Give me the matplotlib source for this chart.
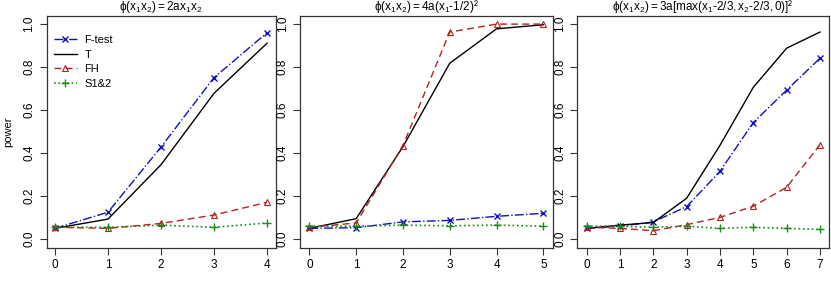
import matplotlib
matplotlib.use('Agg')
import matplotlib.pyplot as plt

plt.rcParams['font.family'] = ['Liberation Sans', 'DejaVu Sans']
plt.rcParams['mathtext.fontset'] = 'custom'
plt.rcParams['mathtext.rm'] = 'Liberation Sans'
plt.rcParams['mathtext.it'] = 'Liberation Sans'
plt.rcParams['mathtext.default'] = 'regular'

# data
x1 = [0, 1, 2, 3, 4]
ftest1 = [0.05, 0.125, 0.428, 0.751, 0.96]
t1 = [0.05, 0.093, 0.346, 0.678, 0.911]
fh1 = [0.055, 0.05, 0.073, 0.112, 0.171]
s1 = [0.055, 0.055, 0.065, 0.055, 0.075]

x2 = [0, 1, 2, 3, 4, 5]
ftest2 = [0.05, 0.053, 0.08, 0.087, 0.106, 0.12]
t2 = [0.05, 0.095, 0.43, 0.818, 0.978, 0.997]
fh2 = [0.055, 0.075, 0.435, 0.963, 1.0, 1.0]
s2 = [0.06, 0.06, 0.065, 0.062, 0.065, 0.06]

x3 = [0, 1, 2, 3, 4, 5, 6, 7]
ftest3 = [0.05, 0.06, 0.08, 0.151, 0.315, 0.542, 0.693, 0.841]
t3 = [0.05, 0.065, 0.077, 0.19, 0.436, 0.706, 0.888, 0.963]
fh3 = [0.055, 0.05, 0.039, 0.067, 0.101, 0.153, 0.241, 0.439]
s3 = [0.06, 0.06, 0.055, 0.06, 0.05, 0.055, 0.05, 0.045]

titles = [r'$\phi(x_1x_2)=2ax_1x_2$',
          r'$\phi(x_1x_2)=4a(x_1$-$1/2)$²',
          r'$\phi(x_1x_2)=3a[max(x_1$-$2/3,x_2$-$2/3,0)]$²']

panels = [(x1, ftest1, t1, fh1, s1), (x2, ftest2, t2, fh2, s2), (x3, ftest3, t3, fh3, s3)]

W, H = 831, 291
boxes = [(46.5, 275.5), (300, 552.7), (577.3, 829.3)]
top, bottom = 15.5, 247.7

fig = plt.figure(figsize=(W / 100, H / 100), dpi=100)

blue = '#1010c0'
red = '#b22222'
green = '#1a8a1a'

for i, (xs, ft, t, fh, s) in enumerate(panels):
    l, r = boxes[i]
    ax = fig.add_axes([l / W, 1 - bottom / H, (r - l) / W, (bottom - top) / H])
    ax.plot(xs, ft, color=blue, ls='-.', lw=1, marker='x', ms=5, mew=1, label='F-test')
    ax.plot(xs, t, color='black', ls='-', lw=1, label='T')
    ax.plot(xs, fh, color=red, ls=(0, (5, 3)), lw=1, marker='^', ms=5, mfc='none', mew=0.8, label='FH')
    ax.plot(xs, s, color=green, ls=':', lw=1.2, marker='+', ms=6, mew=1, label='S1&2')
    n = xs[-1]
    ax.set_xlim(-0.04 * n, n * 1.04)
    ax.set_ylim(-0.04, 1.04)
    ax.set_xticks(xs)
    ax.set_yticks([0, 0.2, 0.4, 0.6, 0.8, 1.0])
    ax.set_yticklabels(['0.0', '0.2', '0.4', '0.6', '0.8', '1.0'], rotation=90, va='center')
    ax.tick_params(labelsize=8.5, length=5, width=0.8, color='#333333', pad=3)
    for sp in ax.spines.values():
        sp.set_linewidth(0.9)
        sp.set_color('#333333')
    ax.set_title(titles[i], fontsize=8.5, pad=1.5)
    if i == 0:
        ax.set_ylabel('power', fontsize=8, labelpad=7)
        ax.legend(loc='upper left', frameon=False, fontsize=8, handlelength=2.0,
                  handletextpad=0.7, labelspacing=0.42, borderaxespad=0.3,
                  bbox_to_anchor=(0.0, 0.95))

fig.savefig('out.png', dpi=100)
